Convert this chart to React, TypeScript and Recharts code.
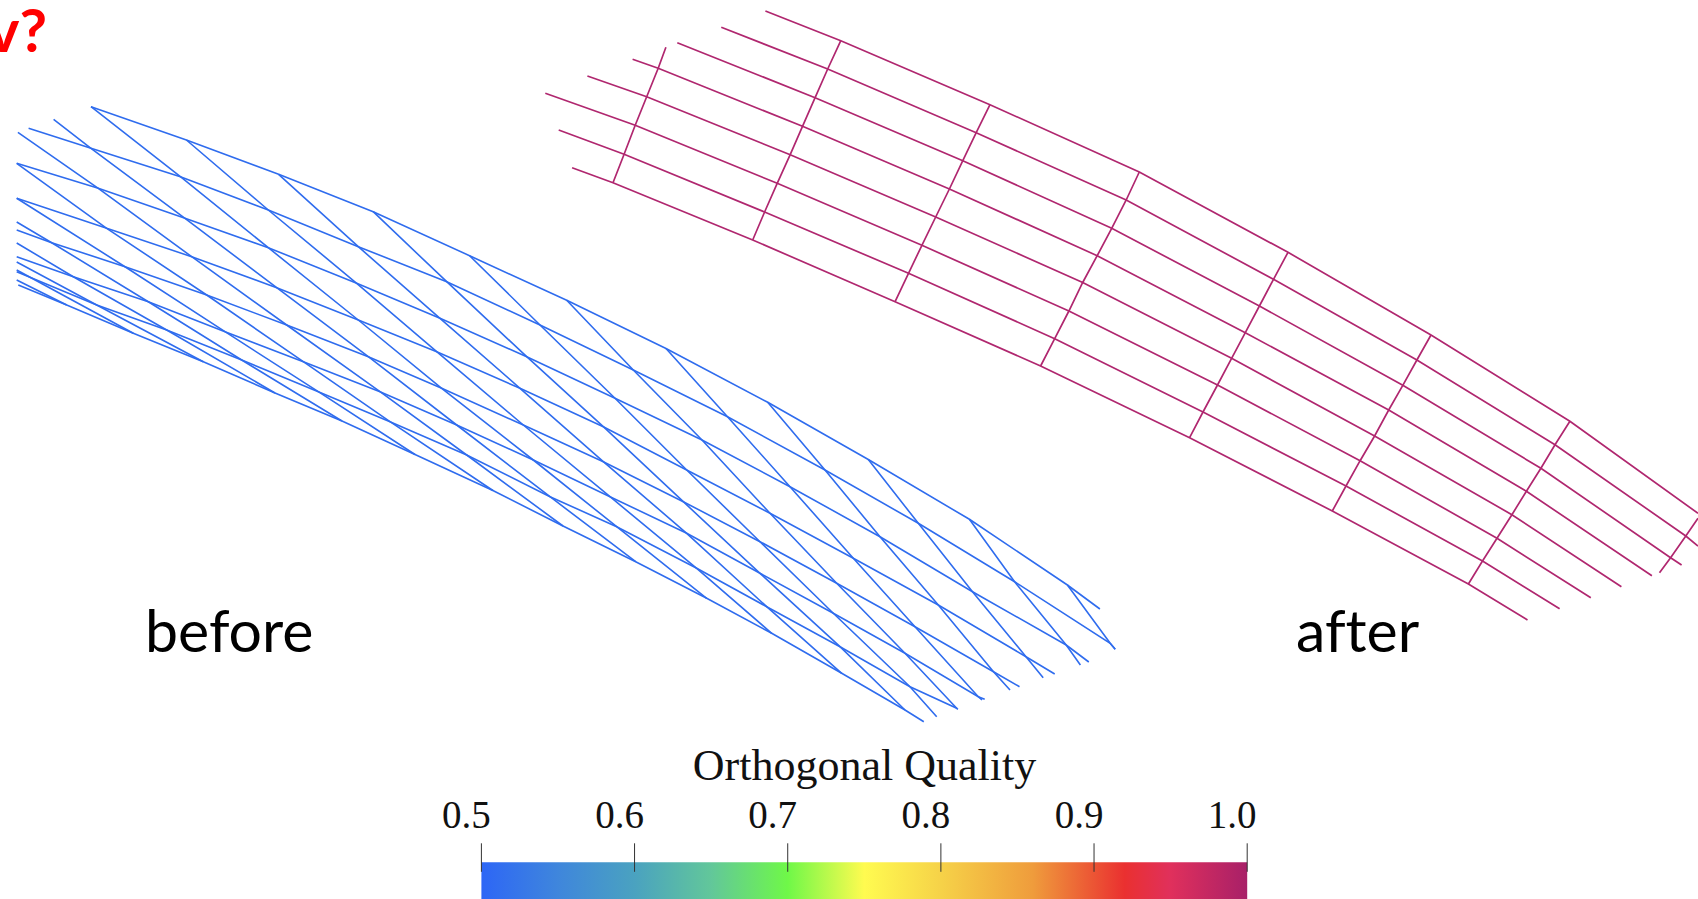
import { LineChart, Line, XAxis, YAxis, ComposedChart, ReferenceArea } from 'recharts';

type Pt = [number, number];

const WIDTH = 1698;
const HEIGHT = 899;

// "before" mesh: each row is one slanted cell edge, listed rail by rail
const beforeDiagonals: { firstRail: number; pts: Pt[] }[] = [
  { firstRail: 6, pts: [[16.7, 280], [66.7, 305]] },
  { firstRail: 6, pts: [[16.7, 270], [133.3, 333.3]] },
  { firstRail: 5, pts: [[16.7, 262], [96.7, 305], [203.3, 361.7]] },
  { firstRail: 4, pts: [[16.7, 243], [73.3, 276.7], [166.7, 330], [275, 393]] },
  { firstRail: 3, pts: [[16.7, 222], [51.7, 242.7], [148.3, 301.7], [241.7, 360], [342, 421]] },
  { firstRail: 3, pts: [[16.7, 198.3], [125, 266.7], [225, 331.7], [318.3, 391.7], [415, 454.5]] },
  { firstRail: 2, pts: [[16.7, 163.3], [106.7, 228.3], [206.7, 295], [303.3, 361.7], [390, 421.7], [492.9, 490.5]] },
  { firstRail: 1, pts: [[17.9, 132.3], [98.3, 188.3], [191.7, 256.7], [286.7, 325], [380, 391.7], [466.7, 455], [563, 526]] },
  { firstRail: 0, pts: [[53.6, 119.3], [91, 148.3], [185, 218.3], [276.7, 287.7], [368.3, 356.7], [456.7, 425], [550, 496.7], [635.7, 561.7]] },
  { firstRail: 0, pts: [[91, 106.7], [180.4, 176.7], [268.3, 247.7], [358.3, 320], [441.7, 388.3], [533.3, 460], [616.7, 526.7], [706.7, 598.3]] },
  { firstRail: 0, pts: [[186.4, 140], [268.3, 210], [356.7, 283.3], [436.7, 351.7], [523.3, 425], [610, 496.7], [696.7, 568.3], [771.7, 633.3]] },
  { firstRail: 0, pts: [[278.6, 174.3], [358.3, 246.7], [440, 318.3], [520, 388.3], [603.3, 461.7], [686.7, 533.3], [766.7, 606.7], [841.7, 673.3]] },
  { firstRail: 0, pts: [[373.2, 211.7], [446.7, 281.7], [526.7, 356.7], [603.3, 426.7], [683.3, 501.7], [760, 573.3], [840, 646.7], [905, 710]] },
  { firstRail: 0, pts: [[469.6, 255.7], [540, 325], [615, 398.3], [686.7, 470], [760, 541.7], [833.3, 613.3], [910, 686.7], [936.7, 716.7]] },
  { firstRail: 0, pts: [[566.7, 300.3], [633.3, 370], [702, 440], [770, 513.3], [836.7, 583.3], [905, 653.3], [956.7, 708.3]] },
  { firstRail: 0, pts: [[666, 348.5], [727.5, 416.7], [790, 486.7], [853.3, 558.3], [915, 626.7], [978.3, 696.7], [982, 700]] },
  { firstRail: 0, pts: [[767.7, 402.3], [825, 470], [880, 536.7], [938.3, 605], [993.5, 671.7], [1010, 690]] },
  { firstRail: 0, pts: [[868.3, 459.5], [918.3, 523.3], [972.5, 591.7], [1026, 656.7], [1043.2, 677.7]] },
  { firstRail: 0, pts: [[969.4, 519.3], [1014.6, 581.7], [1066.2, 645], [1080.4, 665]] },
  { firstRail: 0, pts: [[1067.4, 585], [1110.2, 643.3], [1115.2, 649.3]] },
];
const beforeRailStarts: Pt[] = [[91, 106.7], [28.6, 128.3], [16.7, 163.3], [16.7, 198.3], [16.7, 230], [16.7, 256.7], [16.7, 271.7], [18.3, 285]];
const beforeRailEnds: Pt[] = [[1099.9, 609], [1115.2, 649.3], [1088.8, 662], [1054.7, 674], [1019.5, 686.7], [984.7, 699.3], [957.9, 709.3], [923.8, 721.7]];

// "after" mesh: cross ribs, one slot per rail (null where the rib stops short)
const afterRibs: (Pt | null)[][] = [
  [null, null, [665.9, 47.3], [658.2, 68.3], [646.7, 96.7], [635.2, 125.3], [624.1, 154.3], [613, 182.7]],
  [[840.8, 40.7], [827.7, 69], [815.1, 97.7], [802.5, 126.3], [790.2, 154.7], [777.2, 183.3], [764.6, 212], [752.7, 240]],
  [[990, 104.7], [976.2, 132.7], [962.8, 160.7], [949.4, 189], [935.7, 217], [921.9, 245.3], [908.5, 273.3], [895.1, 301.7]],
  [[1139.3, 172], [1126.2, 200], [1111.7, 228.3], [1097.2, 255.7], [1082.7, 282.5], [1068.9, 311], [1054.7, 338.7], [1040.6, 366]],
  [[1288, 252.3], [1273.5, 279.3], [1259.4, 306], [1245.3, 332.7], [1231.6, 358.3], [1217.5, 385], [1203, 412], [1189.6, 437.7]],
  [[1431, 335], [1416.9, 360], [1402.8, 385.3], [1388.7, 410], [1374.6, 436], [1360.1, 460.7], [1346, 486], [1332.3, 511]],
  [[1569.9, 421.3], [1555, 444.7], [1540.9, 468.3], [1526.4, 491.3], [1511.9, 514.7], [1497, 538.3], [1482.5, 561], [1468.4, 584]],
  [[1698, 518.3], [1685.8, 536], [1670.6, 557.7], [1659.5, 572.7], null, null, null, null],
];
const afterRailStarts: Pt[] = [[765.4, 11], [721.3, 27.3], [677.3, 42.7], [632.6, 59.3], [587.4, 76], [545.3, 93.3], [558.7, 130], [572.1, 167.7]];
const afterRailEnds: Pt[] = [[1698, 513.3], [1698, 546], [1681.6, 565], [1651.9, 575.7], [1621.4, 586.7], [1590.8, 597.7], [1559.6, 608.7], [1527.5, 620]];

// colour bar
const qualityTicks = [0.5, 0.6, 0.7, 0.8, 0.9, 1.0];
const qualityRamp: [number, string][] = [
  [0, '#2d66f6'], [0.1, '#3f86dc'], [0.2, '#4aa2c0'], [0.3, '#62c79a'], [0.4, '#6ff848'],
  [0.5, '#fffb50'], [0.6, '#f6d248'], [0.72, '#ef9c3c'], [0.84, '#ea3030'], [0.9, '#e0305c'], [1, '#a82068'],
];

const toRows = (pts: Pt[]) => pts.map(([x, y]) => ({ x, y }));

const railThrough = (nodes: Pt[], start: Pt, end: Pt): Pt[] => [
  start,
  ...nodes.filter((p) => p[0] > start[0] && p[0] < end[0]).sort((a, b) => a[0] - b[0]),
  end,
];

const beforeRails = beforeRailStarts.map((start, rail) =>
  railThrough(
    beforeDiagonals.map((d) => d.pts[rail - d.firstRail]).filter((p) => p != null),
    start,
    beforeRailEnds[rail],
  ),
);
const afterRails = afterRailStarts.map((start, rail) =>
  railThrough(afterRibs.map((r) => r[rail]).filter((p) => p != null) as Pt[], start, afterRailEnds[rail]),
);

const BLUE = '#2f6cee';
const PINK = '#b0276f';
const LABEL_STYLE = { fontVariantLigatures: 'none' };

const QualityTick = ({ x, y, payload }: any) => (
  <g>
    <line x1={x} x2={x} y1={y - 19} y2={y + 9.5} stroke="#333" strokeWidth={1} />
    <text
      x={x - 15}
      y={y - 34.5}
      textAnchor="middle"
      fontFamily="'Liberation Serif', serif"
      fontSize={39}
      fill="#111"
    >
      {payload.value.toFixed(1)}
    </text>
  </g>
);

export default function App() {
  return (
    <div style={{ position: 'fixed', left: 0, top: 0, width: WIDTH, height: HEIGHT, overflow: 'hidden', background: '#fff' }}>
      <div style={{ position: 'absolute', left: 0, top: 0 }}>
        <ComposedChart
          width={WIDTH}
          height={HEIGHT}
          data={qualityTicks.map((q) => ({ q }))}
          margin={{ top: 861.3, right: 450.8, bottom: 0, left: 481.4 }}
        >
          <defs>
            <linearGradient id="qualityRamp" x1="0" y1="0" x2="1" y2="0">
              {qualityRamp.map(([o, c]) => (
                <stop key={o} offset={`${o * 100}%`} stopColor={c} />
              ))}
            </linearGradient>
          </defs>
          <XAxis
            type="number"
            dataKey="q"
            domain={[0.5, 1]}
            allowDataOverflow
            ticks={qualityTicks}
            orientation="top"
            height={1}
            axisLine={false}
            tickLine={false}
            tickSize={0}
            tickMargin={0}
            interval={0}
            tick={<QualityTick />}
          />
          <YAxis type="number" domain={[0, 1]} allowDataOverflow hide />
          <ReferenceArea x1={0.5} x2={1} y1={0} y2={1} ifOverflow="visible" fill="url(#qualityRamp)" fillOpacity={1} stroke="none" />
        </ComposedChart>
      </div>
      <div style={{ position: 'absolute', left: 0, top: 0 }}>
        <LineChart width={WIDTH} height={HEIGHT} margin={{ top: 0, right: 0, bottom: 0, left: 0 }}>
          <XAxis type="number" dataKey="x" domain={[0, WIDTH]} hide allowDataOverflow />
          <YAxis type="number" domain={[0, HEIGHT]} reversed hide allowDataOverflow />
          {beforeRails.map((pts, i) => (
            <Line key={`br${i}`} data={toRows(pts)} dataKey="y" stroke={BLUE} strokeWidth={1.6} dot={false} activeDot={false} isAnimationActive={false} />
          ))}
          {beforeDiagonals.map((d, i) => (
            <Line key={`bd${i}`} data={toRows(d.pts)} dataKey="y" stroke={BLUE} strokeWidth={1.6} dot={false} activeDot={false} isAnimationActive={false} />
          ))}
          {afterRails.map((pts, i) => (
            <Line key={`ar${i}`} data={toRows(pts)} dataKey="y" stroke={PINK} strokeWidth={1.7} dot={false} activeDot={false} isAnimationActive={false} />
          ))}
          {afterRibs.map((rib, i) => (
            <Line key={`ac${i}`} data={toRows(rib.filter((p) => p != null) as Pt[])} dataKey="y" stroke={PINK} strokeWidth={1.7} dot={false} activeDot={false} isAnimationActive={false} />
          ))}
          <text x={47} y={52} textAnchor="end" fontFamily="Lato, sans-serif" fontWeight={700} fontSize={60} fill="#ff0000">v?</text>
          <text x={145} y={652} fontFamily="Lato, sans-serif" fontSize={59} fill="#000" style={LABEL_STYLE}>before</text>
          <text x={1296} y={652} fontFamily="Lato, sans-serif" fontSize={59} fill="#000" style={LABEL_STYLE}>after</text>
          <text x={864.5} y={780} textAnchor="middle" fontFamily="'Liberation Serif', serif" fontSize={44} fill="#111">Orthogonal Quality</text>
        </LineChart>
      </div>
    </div>
  );
}
